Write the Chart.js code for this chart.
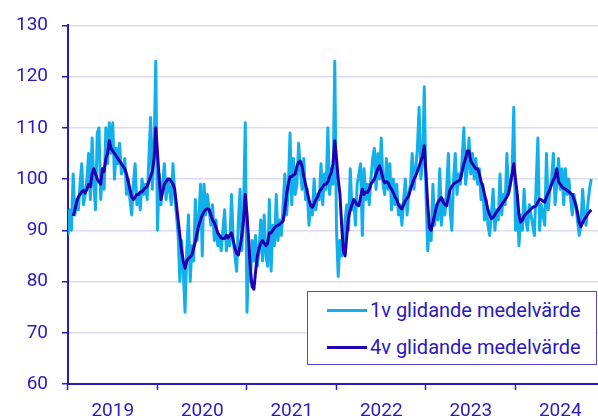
<!DOCTYPE html>
<html><head><meta charset="utf-8">
<script src="https://cdn.jsdelivr.net/npm/chart.js@4"></script>
<style>
html,body{margin:0;padding:0;background:#fff;}
#wrap{position:relative;width:598px;height:418px;}
#legend{position:absolute;left:307px;top:291px;width:290px;height:74px;border:1.5px solid #5446d6;box-sizing:border-box;background:#fff;font-family:Roboto,sans-serif;font-size:20px;color:#2a18c0;}
.sw{position:absolute;left:19px;width:40px;height:3px;}
.tx{position:absolute;left:62px;white-space:nowrap;line-height:22px;}
</style>
</head><body>
<div id="wrap">
<canvas id="c" width="598" height="418"></canvas>
<div id="legend">
  <div class="sw" style="top:17px;background:#12b0ea"></div><div class="tx" style="top:7px">1v glidande medelvärde</div>
  <div class="sw" style="top:54px;background:#2200b4"></div><div class="tx" style="top:44px">4v glidande medelvärde</div>
</div>
</div>
<script>
const years = [2019, 2020, 2021, 2022, 2023, 2024];
const yTicks = [60, 70, 80, 90, 100, 110, 120, 130];
const weeksPerYear = 52;

const v1_2019 = [89,94,90,101,93,96,94,99,103,95, 97,100,105,96,108,99,94,109,110,96, 102,98,110,103,111,105,111,100,106,103, 107,101,102,104,97,100,96,93,99,103, 95,97,94,100,97,99,96,104,112,98, 106,123];
const v4_2019 = [null,null,null,92.8,94,95.5,96.5,97,97.5,97.8, 97.3,98,99,98.5,101,102,101,100,99.5,99, 102,101.5,104,105,107.5,106,105.5,105,104.5,104, 103.5,103,102.5,102,101,99.5,98,96.5,96,96.5, 97,97,97.5,97.5,98,98.3,98.6,99.5,100.5,101.5, 104,110];
const v1_2020 = [90,101,95,99,103,96,100,98,95,103, 97,93,89,80,88,82,74,86,93,80, 87,84,96,88,92,99,85,99,93,97, 94,91,95,88,92,87,89,86,90,94, 86,89,87,97,88,85,82,92,98,86, 94,111];
const v4_2020 = [105,100,96,97.5,99,99.5,100,100,99.5,99, 98,95,92,89,86,84,82.6,84,84.5,84.8, 85.2,86.5,87.8,89.5,91,92,93,93.6,94,94.2, 94,93,92,91.5,90.5,89.5,89,88.5,88.4,88.4, 89,88.5,89,89.5,88,86.5,85.5,85.2,87,89, 92,97];
const v1_2021 = [74,86,80,88,84,89,83,86,92,84, 93,85,83,96,82,91,87,97,88,92, 89,95,101,93,98,109,95,104,97,99, 107,102,98,104,96,98,91,95,93,100, 94,97,96,103,95,101,98,110,97,102, 99,123];
const v4_2021 = [93,88,82,79,78.5,82,85,86.5,87.5,88, 87.5,87,87.5,89.5,89.5,90,90.5,90.8,91,91.2, 91.5,91.8,94,97,99,100.5,100.5,100.8,101,102.5, 103.3,103.5,102.5,100.5,99,97.5,96,94.8,94.5,95.2, 96,96.5,97.5,98,98.5,99,99,99.5,100.5,101.3, 103,107.5];
const v1_2022 = [90,81,88,85,87,92,95,90,102,94, 96,91,99,101,103,89,102,96,99,95, 100,104,106,98,105,100,108,99,97,104, 98,103,94,100,95,99,93,95,91,96, 100,93,97,99,105,98,102,106,114,100, 103,118];
const v4_2022 = [104,100,97,91,86,85,89,92.5,94,95, 96,95.5,95,94.8,96.5,98,97,97.5,97.4,98, 99,99.5,100,101,102,102.6,101.5,100,99.3,99.5, 99.3,98.5,98,97.4,96.5,96,95,94.5,94.2,95, 95.8,96.3,96.8,98,99,100,100.6,101.5,102.5,103.5, 104.5,106.5];
const v1_2023 = [97,86,91,88,99,91,95,92,102,91, 96,93,98,105,94,90,100,105,97,101, 99,104,110,99,102,108,101,105,100,104, 99,102,96,99,92,96,91,89,93,98, 90,94,92,101,93,97,95,105,97,99, 101,114];
const v4_2023 = [101,95,90.5,90,91.5,93,94.5,95.5,96,96.4, 95.5,95,94.8,96.5,98,98.5,99,99.3,99.5,99.6, 100,101.5,103,104,105.5,105.5,103.5,103,102.5,102, 102,101,99.5,98.5,97,95.5,94,93,92.3,92.5, 93,93.6,94,94.5,95,95.5,96,96.5,97.4,99, 101,103];
const v1_2024 = [90,97,87,93,90,98,92,90,95,93, 91,89,99,108,90,95,93,91,105,94, 98,100,105,95,99,104,98,102,95,102, 97,100,96,93,97,95,92,89,91,98, 93,91,95,98,100];
const v4_2024 = [100,97,93,91.6,92,92.8,93.2,93.5,93.8,94.2, 94.5,94.6,94.8,95.5,96.1,96,95.7,95.5,96.5,97.3, 98,99,99.8,100.5,102,99.5,99,98.5,98.2,98, 97.8,97.5,97.2,97,96,95,93.5,91.6,90.7,91.5, 92.2,92.6,93.2,93.6,94];

const series1v = [v1_2019, v1_2020, v1_2021, v1_2022, v1_2023, v1_2024];
const series4v = [v4_2019, v4_2020, v4_2021, v4_2022, v4_2023, v4_2024];

function toPoints(perYear) {
  const pts = [];
  perYear.forEach((arr, yi) => {
    arr.forEach((v, wi) => pts.push({ x: years[yi] + wi / weeksPerYear, y: v }));
  });
  return pts;
}

const axisColor = '#2a18c0';
const gridColor = '#dcd9f3';
const font = { family: 'Roboto', size: 19 };

new Chart(document.getElementById('c'), {
  type: 'line',
  data: {
    datasets: [
      { label: '1v glidande medelvärde', data: toPoints(series1v), borderColor: '#12b0ea', borderWidth: 3, pointRadius: 0, tension: 0, borderJoinStyle: 'round', order: 2 },
      { label: '4v glidande medelvärde', data: toPoints(series4v), borderColor: '#2200b4', borderWidth: 3, pointRadius: 0, tension: 0, borderJoinStyle: 'round', order: 1 }
    ]
  },
  options: {
    responsive: false,
    animation: false,
    layout: { padding: { top: 18, right: 0, left: 0, bottom: 0 } },
    plugins: { legend: { display: false }, tooltip: { enabled: false } },
    scales: {
      x: {
        type: 'linear', min: 2019, max: 2019 + 530 / 89.5,
        afterBuildTicks: s => { s.ticks = years.map(y => ({ value: y + 0.5 })); },
        afterFit: s => { s.height = 34; },
        grid: { offset: true, drawOnChartArea: false, drawTicks: true, tickLength: 6, tickColor: axisColor, tickWidth: 1.5 },
        border: { color: axisColor, width: 2 },
        ticks: { color: axisColor, font: font, padding: 10, maxRotation: 0, autoSkip: false, callback: v => String(Math.floor(v)) }
      },
      y: {
        min: 60, max: 130,
        afterBuildTicks: s => { s.ticks = yTicks.map(v => ({ value: v })); },
        afterFit: s => { s.width = 68; },
        grid: { color: gridColor, lineWidth: 1.5, tickLength: 6, tickColor: axisColor, tickWidth: 1.5 },
        border: { color: axisColor, width: 2 },
        ticks: { color: axisColor, font: font, padding: 14 }
      }
    }
  }
});
</script>
</body></html>
